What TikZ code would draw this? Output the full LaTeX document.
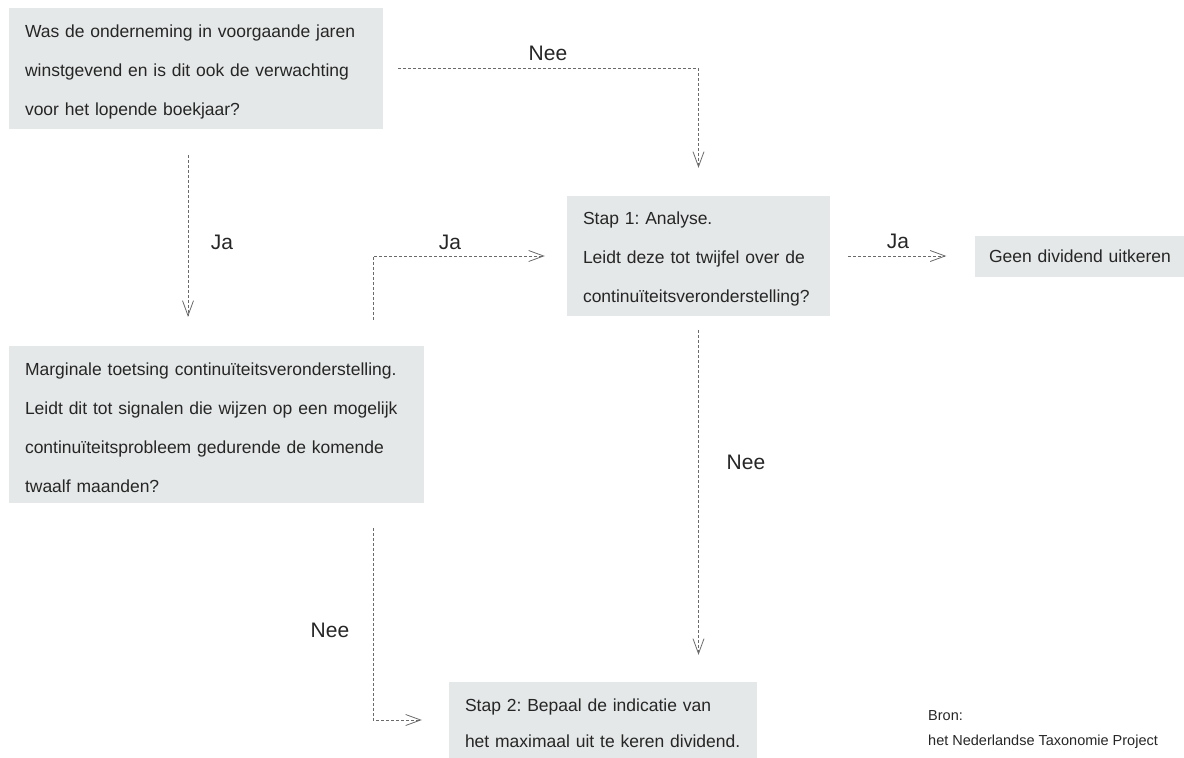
\documentclass[tikz,border=0pt]{standalone}
\usepackage{fontspec}
\setmainfont{Liberation Sans}
\usetikzlibrary{arrows.meta}
\frenchspacing

\definecolor{boxgray}{HTML}{E5E8E8}
\definecolor{textgray}{HTML}{262626}
\definecolor{linegray}{HTML}{6A6A6A}

\tikzset{
  box/.style={fill=boxgray, text=textgray, align=left, inner xsep=16pt, inner ysep=0pt,
    font=\fontsize{17.5}{39}\selectfont, text height=19pt},
  flow/.style={draw=linegray, line width=0.8pt, dash pattern=on 3pt off 2pt,
    -{Straight Barb[length=15pt,width=11pt,line width=0.8pt]}},
  lbl/.style={text=textgray, font=\fontsize{21}{25}\selectfont},
  src/.style={text=textgray, align=left, inner sep=0pt, font=\fontsize{14.5}{25}\selectfont}
}

\begin{document}
\begin{tikzpicture}[x=1pt,y=-1pt]
\useasboundingbox (0,0) rectangle (1184,758);

% Boxes
\node[box, text width=342pt, minimum height=121pt] (winst) at (196,68.5)
  {Was de onderneming in voorgaande jaren\\winstgevend en is dit ook de verwachting\\voor het lopende boekjaar?};
\node[box, text width=383pt, minimum height=157pt] (toets) at (216.5,424.5)
  {Marginale toetsing continuïteitsveronderstelling.\\Leidt dit tot signalen die wijzen op een mogelijk\\continuïteitsprobleem gedurende de komende\\twaalf maanden?};
\node[box, text width=231pt, minimum height=120pt] (stap1) at (698.5,256)
  {Stap 1: Analyse.\\Leidt deze tot twijfel over de\\continuïteitsveronderstelling?};
\node[box, text width=181pt, inner xsep=14.5pt, minimum height=41pt, text height=12.6pt, text depth=0pt] (geen) at (1079.5,256.5)
  {\mbox{Geen dividend uitkeren}};
\node[box, text width=276pt, minimum height=76pt, font=\fontsize{17.5}{36}\selectfont] (stap2) at (603,720)
  {Stap 2: Bepaal de indicatie van\\het maximaal uit te keren dividend.};

% Arrows
\draw[flow, shorten <=15pt, shorten >=28pt] (winst.east) -| (stap1.north);
\draw[flow, shorten <=26pt, shorten >=29pt] ([xshift=-8pt]winst.south) -- ([xshift=-8pt]winst.south |- toets.north);
\draw[flow, shorten <=26pt, shorten >=22pt] ([xshift=-51pt]toets.north east) |- (stap1.west);
\draw[flow, shorten <=18pt, shorten >=28pt] (stap1.east) -- (stap1.east -| geen.west);
\draw[flow, shorten <=14pt, shorten >=27pt] (stap1.south) -- (stap1.south |- stap2.north);
\draw[flow, shorten <=25pt, shorten >=27pt] ([xshift=-51pt]toets.south east) |- (stap2.west);

% Labels
\node[lbl] (nee1) at (548,53) {Nee};
\node[lbl] (ja1) at (222,242) {Ja};
\node[lbl] (ja2) at (450,242) {Ja};
\node[lbl] (ja3) at (898,241) {Ja};
\node[lbl] (nee2) at (746,462) {Nee};
\node[lbl] (nee3) at (330,630) {Nee};

% Source
\node[src, anchor=north west] (bron) at (928,710) {Bron:\\het Nederlandse Taxonomie Project};
\end{tikzpicture}
\end{document}
